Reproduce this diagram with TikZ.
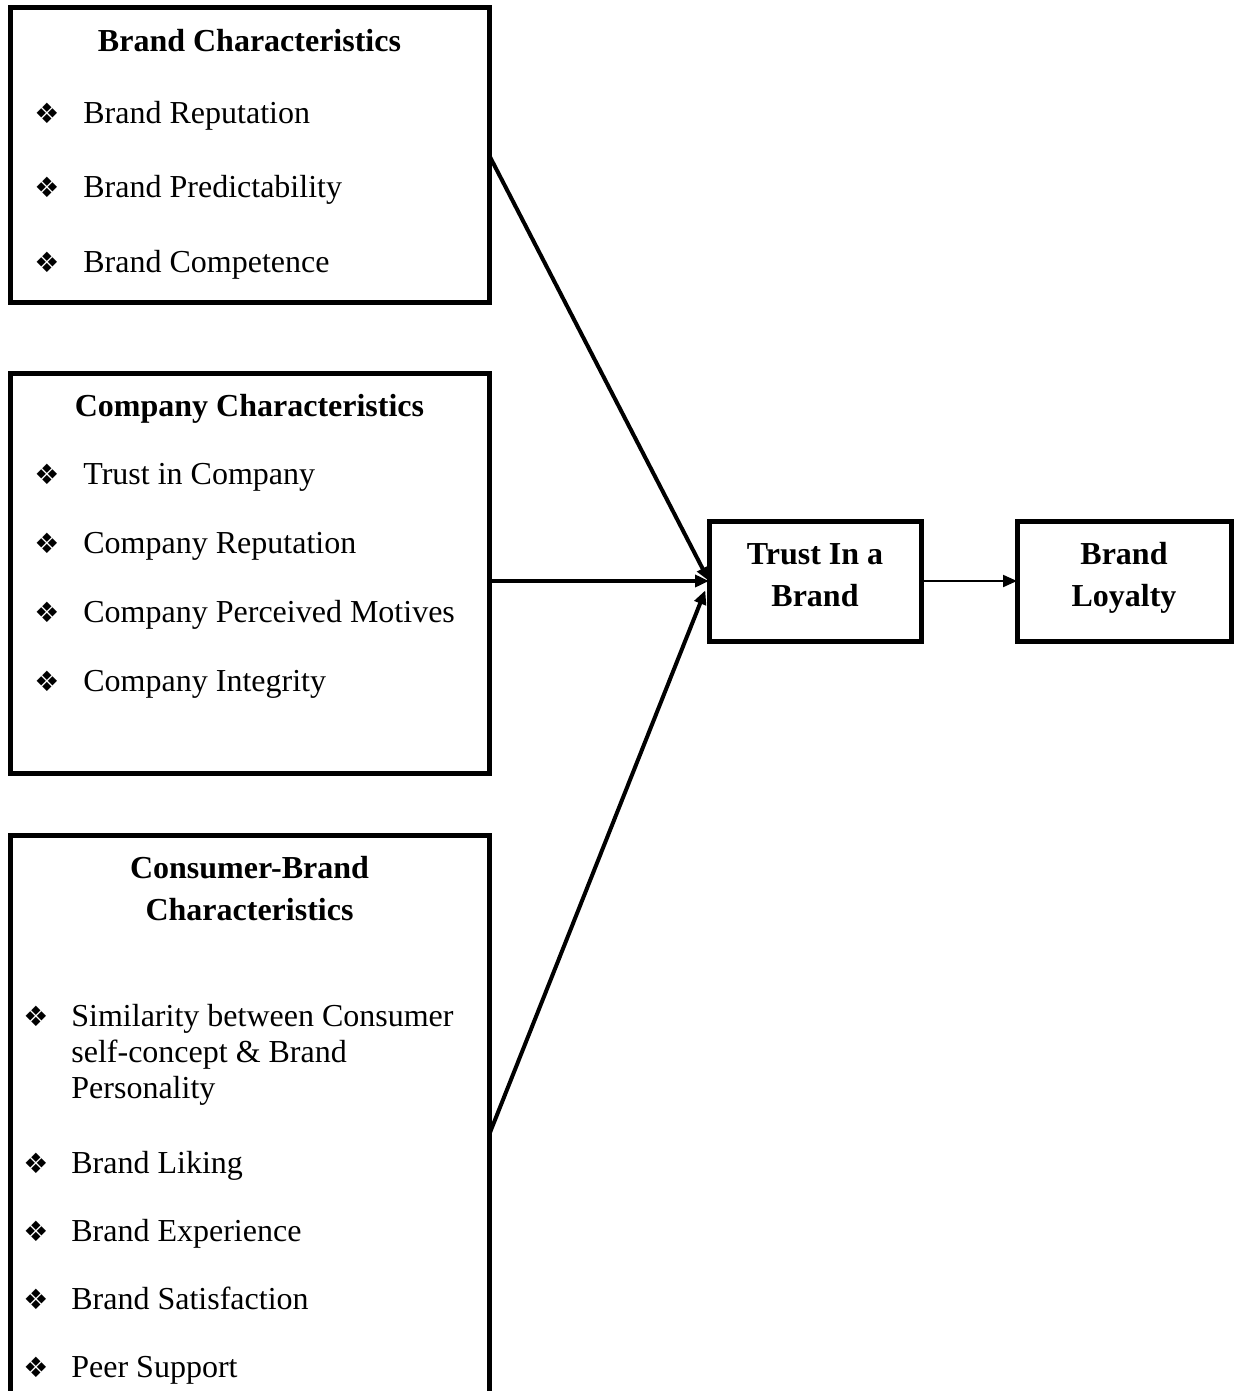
\documentclass[tikz,border=0pt]{standalone}
\usepackage{fontspec}
\setmainfont{Liberation Serif}
\newfontfamily\dejavu{DejaVu Sans}
\usetikzlibrary{arrows.meta,positioning}
\newcommand{\bul}{{\dejavu\fontsize{14pt}{14pt}\selectfont ❖}}

\begin{document}
\begin{tikzpicture}[x=0.5pt,y=-0.5pt,
    box/.style={draw,line width=2.5pt,inner sep=0pt,outer sep=0pt},
    heading/.style={font=\fontsize{16pt}{21pt}\selectfont\bfseries,align=center,inner sep=0pt,anchor=base},
    entry/.style={font=\fontsize{16pt}{18pt}\selectfont,align=left,inner sep=0pt,anchor=base west},
    conn/.style={line width=2pt,-{Triangle[length=7pt,width=6pt]}},
    thinconn/.style={line width=1pt,-{Triangle[length=7pt,width=6pt]}}]
    \clip (0,0) rectangle (1238,1391);

    % left boxes
    \node[box,minimum width=239.5pt,minimum height=147.5pt] (brandchar) at (249.5,155) {};
    \node[box,minimum width=239.5pt,minimum height=200pt] (companychar) at (249.5,573) {};
    \node[box,minimum width=239.5pt,minimum height=300pt] (consumerchar) at (249.5,1135) {};

    % Brand Characteristics
    \node[heading] (bchead) at (249.5,52) {Brand Characteristics};
    \foreach \t [count=\i] in {Brand Reputation, Brand Predictability, Brand Competence}
        \node[entry] (bc\i) at (83,{124+74*(\i-1)}) {\llap{\bul\hspace{12pt}}\t};

    % Company Characteristics
    \node[heading] (cchead) at (249.5,416) {Company Characteristics};
    \foreach \t [count=\i] in {Trust in Company, Company Reputation, Company Perceived Motives, Company Integrity}
        \node[entry] (cc\i) at (83,{484+69.3*(\i-1)}) {\llap{\bul\hspace{12pt}}\t};

    % Consumer-Brand Characteristics (base = last line)
    \node[heading] (cbhead) at (249.5,920) {Consumer-Brand\\Characteristics};
    \node[entry] (cb0) at (71,1098) {\llap{\bul\hspace{11.5pt}}Similarity between Consumer\\self-concept \& Brand\\Personality};
    \foreach \t [count=\i] in {Brand Liking, Brand Experience, Brand Satisfaction, Peer Support}
        \node[entry] (cb\i) at (71,{1173+68.3*(\i-1)}) {\llap{\bul\hspace{11.5pt}}\t};

    % right boxes
    \node[box,minimum width=106pt,minimum height=60pt,font=\fontsize{16pt}{21pt}\selectfont\bfseries,align=center] (trust) at (815,581) {Trust In a\\Brand\strut};
    \node[box,minimum width=107pt,minimum height=60pt,font=\fontsize{16pt}{21pt}\selectfont\bfseries,align=center] (loyalty) at (1124,581) {Brand\\Loyalty\strut};

    % arrows
    \draw[conn] (brandchar.east) -- (trust.west);
    \draw[conn] (companychar.east |- trust.west) -- (trust.west);
    \draw[conn,shorten >=5pt] (consumerchar.east) -- (trust.west);
    \draw[thinconn] (trust) -- (loyalty);
\end{tikzpicture}
\end{document}
